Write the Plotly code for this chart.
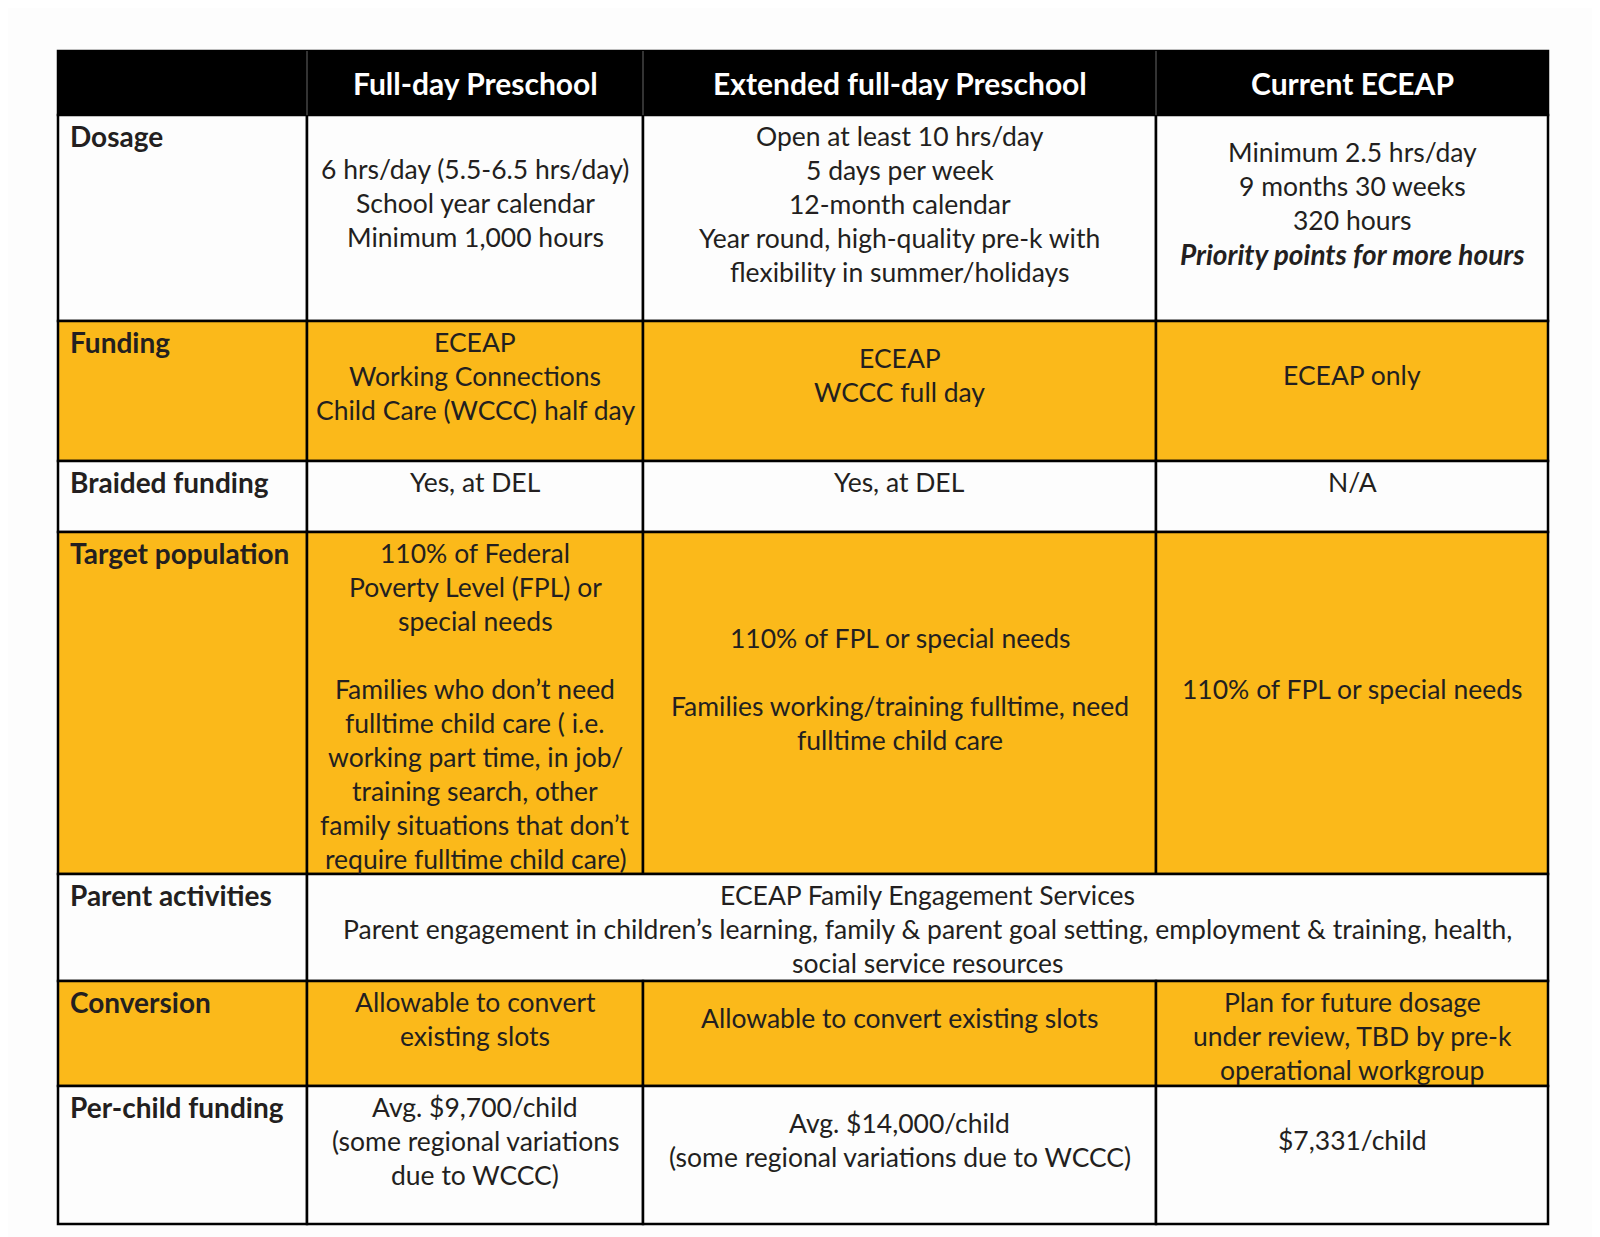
import plotly.graph_objects as go

# Table content
COL_HEADERS = ["Full-day Preschool", "Extended full-day Preschool", "Current ECEAP"]
ROW_LABELS = ["Dosage", "Funding", "Braided funding", "Target population",
              "Parent activities", "Conversion", "Per-child funding"]

# one list of lines per row; None = merged with the row's spanning text
FULL_DAY = [
    ["6 hrs/day (5.5-6.5 hrs/day)", "School year calendar", "Minimum 1,000 hours"],
    ["ECEAP", "Working Connections", "Child Care (WCCC) half day"],
    ["Yes, at DEL"],
    ["110% of Federal", "Poverty Level (FPL) or", "special needs", "",
     "Families who don\u2019t need", "fulltime child care ( i.e.", "working part time, in job/",
     "training search, other", "family situations that don\u2019t", "require fulltime child care)"],
    None,
    ["Allowable to convert", "existing slots"],
    ["Avg. $9,700/child", "(some regional variations", "due to WCCC)"],
]
EXTENDED = [
    ["Open at least 10 hrs/day", "5 days per week", "12-month calendar",
     "Year round, high-quality pre-k with", "flexibility in summer/holidays"],
    ["ECEAP", "WCCC full day"],
    ["Yes, at DEL"],
    ["110% of FPL or special needs", "", "Families working/training fulltime, need",
     "fulltime child care"],
    None,
    ["Allowable to convert existing slots"],
    ["Avg. $14,000/child", "(some regional variations due to WCCC)"],
]
CURRENT = [
    ["Minimum 2.5 hrs/day", "9 months 30 weeks", "320 hours",
     "<span style='font-size:28px'><b><i>Priority points for more hours</i></b></span>"],
    ["ECEAP only"],
    ["N/A"],
    ["110% of FPL or special needs"],
    None,
    ["Plan for future dosage", "under review, TBD by pre-k", "operational workgroup"],
    ["$7,331/child"],
]
PARENT_ACTIVITIES = [
    "ECEAP Family Engagement Services",
    "Parent engagement in children\u2019s learning, family & parent goal setting, employment & training, health,",
    "social service resources",
]

# Layout (pixels of the page)
COL_EDGES = [58, 307, 643, 1156, 1548]
ROW_EDGES = [51, 115, 321, 461, 532, 874, 981, 1086, 1224]
ROW_MID = [88, 54, 20, 157, 55, 37, 54]     # text block centre, from row top
LINE_H = 34
FIRST_LINE = 21
PAGE_PAD = 8                                 # default body margin of the html page
GOLD = "#FBB91A"
WHITE = "#FDFDFD"
INK = "#231F20"
FONT = "Lato"
SIZE = 26.5

fig = go.Figure()
shapes = []
notes = []


def add_lines(lines, xc, top, mid):
    n = len(lines)
    centre = max(top + mid, top + FIRST_LINE + (n - 1) * LINE_H / 2)
    for i, line in enumerate(lines):
        if not line:
            continue
        notes.append(dict(x=xc, y=centre + (i - (n - 1) / 2) * LINE_H, text=line,
                          xanchor="center", yanchor="middle", showarrow=False,
                          font=dict(family=FONT, size=SIZE, color=INK)))


# header
shapes.append(dict(type="rect", x0=COL_EDGES[0], x1=COL_EDGES[-1], y0=ROW_EDGES[0], y1=ROW_EDGES[1],
                   fillcolor="black", line=dict(color="black", width=2.5), layer="below"))
for j, h in enumerate(COL_HEADERS):
    shapes.append(dict(type="line", x0=COL_EDGES[j + 1], x1=COL_EDGES[j + 1],
                       y0=ROW_EDGES[0], y1=ROW_EDGES[1], line=dict(color="#333333", width=2)))
    notes.append(dict(x=(COL_EDGES[j + 1] + COL_EDGES[j + 2]) / 2, y=(ROW_EDGES[0] + ROW_EDGES[1]) / 2,
                      text=f"<b>{h}</b>", showarrow=False, xanchor="center", yanchor="middle",
                      font=dict(family=FONT, size=30, color="white")))

for i, label in enumerate(ROW_LABELS):
    top, bot = ROW_EDGES[i + 1], ROW_EDGES[i + 2]
    fill = GOLD if i % 2 else WHITE
    shapes.append(dict(type="rect", x0=COL_EDGES[0], x1=COL_EDGES[1], y0=top, y1=bot,
                       fillcolor=fill, line=dict(color="black", width=2.5), layer="below"))
    notes.append(dict(x=COL_EDGES[0] + 10, y=top + FIRST_LINE, text=f"<b>{label}</b>",
                      xanchor="left", yanchor="middle", showarrow=False,
                      font=dict(family=FONT, size=28, color=INK)))
    cells = [FULL_DAY[i], EXTENDED[i], CURRENT[i]]
    if cells[0] is None:
        shapes.append(dict(type="rect", x0=COL_EDGES[1], x1=COL_EDGES[-1], y0=top, y1=bot,
                           fillcolor=fill, line=dict(color="black", width=2.5), layer="below"))
        add_lines(PARENT_ACTIVITIES, (COL_EDGES[1] + COL_EDGES[-1]) / 2, top, ROW_MID[i])
        continue
    for j, lines in enumerate(cells):
        shapes.append(dict(type="rect", x0=COL_EDGES[j + 1], x1=COL_EDGES[j + 2], y0=top, y1=bot,
                           fillcolor=fill, line=dict(color="black", width=2.5), layer="below"))
        add_lines(lines, (COL_EDGES[j + 1] + COL_EDGES[j + 2]) / 2, top, ROW_MID[i])

fig.update_layout(
    width=1600, height=1237,
    margin=dict(l=0, r=0, t=0, b=0),
    paper_bgcolor=WHITE, plot_bgcolor=WHITE,
    xaxis=dict(range=[PAGE_PAD, 1600 + PAGE_PAD], visible=False, fixedrange=True),
    yaxis=dict(range=[1237 + PAGE_PAD, PAGE_PAD], visible=False, fixedrange=True),
    shapes=shapes, annotations=notes, showlegend=False,
)

fig.write_html("out.html")
